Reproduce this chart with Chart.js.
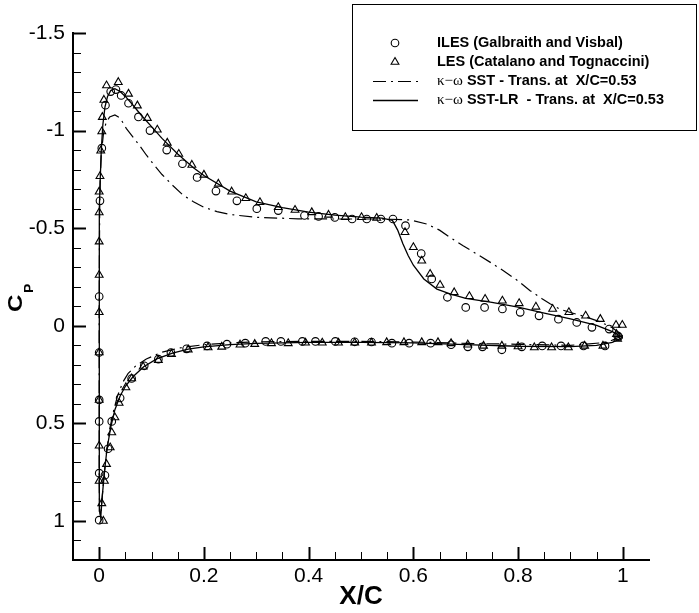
<!DOCTYPE html>
<html>
<head>
<meta charset="utf-8">
<script src="https://cdn.jsdelivr.net/npm/chart.js@4.4.1/dist/chart.umd.min.js"></script>
<style>
  html, body { margin: 0; padding: 0; background: #fff; }
  #wrap { width: 699px; height: 613px; }
</style>
</head>
<body>
<div id="wrap"><canvas id="cp-chart" width="699" height="613"></canvas></div>
<script>
// Ejes
var xMajor = [0, 0.2, 0.4, 0.6, 0.8, 1];
var yMajor = [-1.5, -1, -0.5, 0, 0.5, 1];
var xRange = [-0.05, 1.05];
var yRange = [-1.5, 1.2];

// ILES (Galbraith and Visbal): extrados y luego intrados
var ilesX = [0, 0.0015, 0.005, 0.012, 0.022, 0.032, 0.042, 0.056, 0.075, 0.097, 0.129, 0.159, 0.187, 0.223, 0.263, 0.301,
    0.342, 0.392, 0.419, 0.45, 0.483, 0.511, 0.538, 0.561, 0.585, 0.615, 0.635, 0.665, 0.70, 0.736, 0.77, 0.804, 0.84,
    0.877, 0.912, 0.941, 0.974, 0.99,
    0, 0, 0, 0, 0.011, 0, 0.017, 0.024, 0.04, 0.062, 0.086, 0.113, 0.137, 0.167, 0.206, 0.244, 0.279, 0.318, 0.347,
    0.388, 0.413, 0.451, 0.488, 0.52, 0.559, 0.592, 0.633, 0.672, 0.704, 0.732, 0.769, 0.807, 0.846, 0.882, 0.925,
    0.966, 0.992];
var ilesCp = [-0.15, -0.64, -0.91, -1.13, -1.20, -1.21, -1.18, -1.14, -1.07, -1.0, -0.90, -0.83, -0.76, -0.69, -0.64, -0.60,
    -0.59, -0.565, -0.56, -0.555, -0.547, -0.547, -0.547, -0.547, -0.513, -0.37, -0.24, -0.146, -0.094, -0.094, -0.086,
    -0.069, -0.051, -0.034, -0.017, 0.008, 0.017, 0.051,
    0.137, 0.38, 0.49, 0.755, 0.766, 0.996, 0.63, 0.49, 0.37, 0.27, 0.205, 0.171, 0.137, 0.118, 0.103, 0.094, 0.089,
    0.08, 0.08, 0.08, 0.08, 0.08, 0.082, 0.083, 0.089, 0.089, 0.089, 0.097, 0.108, 0.108, 0.123, 0.108, 0.103, 0.103,
    0.103, 0.103, 0.056];

// LES (Catalano and Tognaccini)
var lesX = [0, 0, 0, 0, 0, 0.0015, 0.003, 0.005, 0.006, 0.009, 0.014, 0.0365, 0.056, 0.073, 0.092, 0.111, 0.130, 0.152,
    0.177, 0.20, 0.2275, 0.253, 0.28, 0.307, 0.342, 0.374, 0.406, 0.438, 0.47, 0.501, 0.53, 0.584, 0.60, 0.616, 0.632,
    0.651, 0.678, 0.707, 0.737, 0.77, 0.802, 0.834, 0.866, 0.897, 0.929, 0.957, 0.987, 0.999, 0.99,
    0, 0, 0, 0, 0.01, 0.005, 0.008, 0.014, 0.021, 0.024, 0.03, 0.038, 0.051, 0.062, 0.084, 0.113, 0.138, 0.17, 0.208,
    0.234, 0.269, 0.297, 0.329, 0.361, 0.394, 0.426, 0.457, 0.488, 0.52, 0.549, 0.582, 0.616, 0.647, 0.672, 0.704,
    0.734, 0.769, 0.80, 0.831, 0.864, 0.896, 0.927, 0.962, 0.988];
var lesCp = [-0.069, -0.26, -0.431, -0.58, -0.687, -0.766, -0.897, -0.995, -1.069, -1.157, -1.231, -1.248, -1.188, -1.128,
    -1.064, -1.004, -0.937, -0.88, -0.824, -0.773, -0.727, -0.687, -0.653, -0.633, -0.607, -0.593, -0.581, -0.568, -0.556,
    -0.556, -0.552, -0.479, -0.402, -0.333, -0.265, -0.209, -0.171, -0.151, -0.137, -0.128, -0.115, -0.097, -0.086,
    -0.069, -0.051, -0.034, -0.004, -0.004, 0.068,
    0.137, 0.38, 0.615, 0.795, 0.795, 0.91, 1.0, 0.709, 0.624, 0.547, 0.47, 0.396, 0.316, 0.27, 0.21, 0.176, 0.145,
    0.122, 0.111, 0.108, 0.097, 0.094, 0.09, 0.09, 0.087, 0.087, 0.087, 0.087, 0.087, 0.085, 0.085, 0.085, 0.085, 0.09,
    0.097, 0.103, 0.103, 0.106, 0.111, 0.111, 0.111, 0.103, 0.103, 0.043];

// k-w SST (trans. X/C=0.53): intrados del borde de salida al de ataque, luego extrados
var sstX = [1.0, 0.97, 0.9, 0.8, 0.7, 0.6, 0.5, 0.4, 0.3, 0.25, 0.2, 0.16, 0.12, 0.09, 0.07, 0.055, 0.045, 0.035, 0.028,
    0.02, 0.014, 0.009, 0.005, 0.003, 0.001, 0, 0, 0, 0,
    0.0005, 0.001, 0.002, 0.004, 0.008, 0.013, 0.02, 0.03, 0.04, 0.052, 0.065, 0.078, 0.09, 0.103, 0.12, 0.14, 0.16,
    0.18, 0.2, 0.225, 0.25, 0.3, 0.38, 0.45, 0.54, 0.595, 0.626, 0.65, 0.67, 0.695, 0.721, 0.75, 0.772, 0.8, 0.823,
    0.845, 0.861, 0.88, 0.9, 0.93, 0.957, 0.98, 1.0];
var sstCp = [0.05, 0.085, 0.1, 0.095, 0.09, 0.083, 0.08, 0.08, 0.082, 0.088, 0.097, 0.11, 0.135, 0.17, 0.205, 0.245, 0.29,
    0.36, 0.43, 0.53, 0.65, 0.78, 0.9, 0.98, 0.95, 0.8, 0.5, 0.2, -0.1,
    -0.4, -0.6, -0.75, -0.88, -0.98, -1.04, -1.07, -1.08, -1.065, -1.01, -0.965, -0.92, -0.875, -0.83, -0.775, -0.72,
    -0.67, -0.635, -0.607, -0.585, -0.57, -0.556, -0.548, -0.547, -0.547, -0.542, -0.521, -0.49, -0.453, -0.41, -0.368,
    -0.32, -0.282, -0.23, -0.18, -0.14, -0.113, -0.085, -0.068, -0.045, -0.02, 0.01, 0.05];

// k-w SST-LR (trans. X/C=0.53)
var sstLrX = [1.0, 0.98, 0.95, 0.9, 0.8, 0.7, 0.6, 0.5, 0.4, 0.3, 0.25, 0.2, 0.17, 0.14, 0.11, 0.085, 0.065, 0.05, 0.04,
    0.03, 0.022, 0.015, 0.01, 0.006, 0.003, 0.001, 0, 0, 0, 0,
    0.0005, 0.001, 0.002, 0.004, 0.007, 0.011, 0.016, 0.022, 0.03, 0.04, 0.05, 0.06, 0.08, 0.1, 0.12, 0.15, 0.18, 0.2,
    0.25, 0.3, 0.35, 0.4, 0.45, 0.5, 0.54, 0.56, 0.57, 0.58, 0.59, 0.6, 0.62, 0.645, 0.67, 0.7, 0.75, 0.8, 0.85, 0.9,
    0.95, 0.98, 1.0];
var sstLrCp = [0.06, 0.085, 0.1, 0.107, 0.105, 0.097, 0.088, 0.085, 0.085, 0.09, 0.097, 0.108, 0.12, 0.14, 0.17, 0.21,
    0.26, 0.31, 0.36, 0.43, 0.52, 0.63, 0.75, 0.87, 0.98, 0.95, 0.8, 0.5, 0.2, -0.1,
    -0.4, -0.6, -0.75, -0.9, -1.03, -1.12, -1.175, -1.205, -1.215, -1.2, -1.175, -1.145, -1.08, -1.02, -0.96, -0.88,
    -0.81, -0.77, -0.69, -0.635, -0.605, -0.582, -0.567, -0.557, -0.552, -0.54, -0.49, -0.42, -0.36, -0.31, -0.24,
    -0.188, -0.163, -0.14, -0.12, -0.095, -0.065, -0.035, -0.002, 0.03, 0.06];

var seriesLabels = [
    "ILES (Galbraith and Visbal)",
    "LES (Catalano and Tognaccini)",
    "κ−ω SST - Trans. at  X/C=0.53",
    "κ−ω SST-LR  - Trans. at  X/C=0.53",
];

function toPoints(xs, ys) {
    return xs.map(function (x, i) { return { x: x, y: ys[i] }; });
}

var sansFamily = "'Liberation Sans', Arial, Helvetica, sans-serif";
Chart.defaults.font.family = sansFamily;
Chart.defaults.color = "#000";

// Marcas de graduación hacia dentro, principales y secundarias
var inwardTicks = {
    id: "inwardTicks",
    afterDraw: function (chart) {
        var ctx = chart.ctx;
        var xs = chart.scales.x;
        var ys = chart.scales.y;
        var area = chart.chartArea;
        var isMajor = function (list, v) {
            return list.some(function (m) { return Math.abs(m - v) < 1e-6; });
        };
        ctx.save();
        ctx.strokeStyle = "#000";
        var i, v, p, major;
        for (i = 1; i <= 21; i++) {
            v = xRange[0] + i * 0.05;
            p = Math.round(xs.getPixelForValue(v)) + 0.5;
            major = isMajor(xMajor, v);
            ctx.lineWidth = major ? 2 : 1;
            ctx.beginPath();
            ctx.moveTo(p, area.bottom);
            ctx.lineTo(p, area.bottom - (major ? 13 : 8));
            ctx.stroke();
        }
        for (i = 0; i <= 26; i++) {
            v = yRange[0] + i * 0.1;
            p = Math.round(ys.getPixelForValue(v)) + 0.5;
            major = isMajor(yMajor, v);
            ctx.lineWidth = major ? 2 : 1;
            ctx.beginPath();
            ctx.moveTo(area.left, p);
            ctx.lineTo(area.left + (major ? 13 : 8), p);
            ctx.stroke();
        }
        ctx.restore();
    },
};

// Título del eje Y: C con subíndice P, girado
var yTitle = {
    id: "yTitle",
    afterDraw: function (chart) {
        var ctx = chart.ctx;
        ctx.save();
        ctx.fillStyle = "#000";
        ctx.translate(22, 312);
        ctx.scale(0.85, 1);
        ctx.rotate(-Math.PI / 2);
        ctx.textBaseline = "alphabetic";
        ctx.font = "bold 24px " + sansFamily;
        ctx.fillText("C", 0, 0);
        ctx.font = "bold 14px " + sansFamily;
        ctx.fillText("P", 19, 13);
        ctx.restore();
    },
};

// Leyenda en recuadro
var boxLegend = {
    id: "boxLegend",
    afterDraw: function (chart) {
        var ctx = chart.ctx;
        var rowsY = [43, 62, 81, 100];
        var markX = 395;
        var textX = 437;
        ctx.save();
        ctx.strokeStyle = "#000";
        ctx.lineWidth = 1;
        ctx.strokeRect(352.5, 4.5, 344, 126);

        chart.data.datasets.forEach(function (ds, i) {
            var y = rowsY[i];
            ctx.save();
            ctx.strokeStyle = "#000";
            ctx.lineWidth = ds.showLine ? ds.borderWidth : 1.1;
            ctx.setLineDash(ds.borderDash || []);
            ctx.beginPath();
            if (ds.showLine) {
                ctx.moveTo(373, y + 0.5);
                ctx.lineTo(418, y + 0.5);
            } else if (ds.pointStyle === "circle") {
                ctx.arc(markX, y, ds.pointRadius, 0, Math.PI * 2);
            } else {
                var r = ds.pointRadius;
                ctx.moveTo(markX, y - r);
                ctx.lineTo(markX + r * 0.866, y + r / 2);
                ctx.lineTo(markX - r * 0.866, y + r / 2);
                ctx.closePath();
            }
            ctx.stroke();
            ctx.restore();

            var label = ds.label;
            var x = textX;
            ctx.fillStyle = "#000";
            ctx.textBaseline = "middle";
            if (label.indexOf("κ−ω") === 0) {
                ctx.font = "15px 'Liberation Serif', 'DejaVu Serif', serif";
                ctx.fillText("κ−ω", x, y);
                x += ctx.measureText("κ−ω").width;
                label = label.slice(3);
            }
            ctx.font = "bold 14.5px " + sansFamily;
            ctx.fillText(label, x, y);
        });
        ctx.restore();
    },
};

var ctx = document.getElementById("cp-chart").getContext("2d");
var cpChart = new Chart(ctx, {
    type: "scatter",
    data: {
        datasets: [
            {
                label: seriesLabels[0],
                data: toPoints(ilesX, ilesCp),
                showLine: false,
                pointStyle: "circle",
                pointRadius: 3.8,
                pointBorderWidth: 1.1,
                pointBorderColor: "#000",
                pointBackgroundColor: "rgba(0,0,0,0)",
            },
            {
                label: seriesLabels[1],
                data: toPoints(lesX, lesCp),
                showLine: false,
                pointStyle: "triangle",
                pointRadius: 4.5,
                pointBorderWidth: 1.1,
                pointBorderColor: "#000",
                pointBackgroundColor: "rgba(0,0,0,0)",
            },
            {
                label: seriesLabels[2],
                data: toPoints(sstX, sstCp),
                showLine: true,
                borderColor: "#000",
                borderWidth: 1.2,
                borderDash: [13, 5, 2, 5],
                pointRadius: 0,
                tension: 0,
            },
            {
                label: seriesLabels[3],
                data: toPoints(sstLrX, sstLrCp),
                showLine: true,
                borderColor: "#000",
                borderWidth: 1.3,
                pointRadius: 0,
                tension: 0,
            },
        ],
    },
    options: {
        responsive: false,
        animation: false,
        events: [],
        layout: { padding: { top: 33, right: 50, left: 0, bottom: 0 } },
        plugins: {
            legend: { display: false },
            tooltip: { enabled: false },
        },
        scales: {
            x: {
                type: "linear",
                min: xRange[0],
                max: xRange[1],
                grid: { display: false, drawTicks: false },
                border: { display: true, color: "#000", width: 2 },
                afterBuildTicks: function (scale) {
                    scale.ticks = xMajor.map(function (v) { return { value: v }; });
                },
                afterFit: function (scale) { scale.height = 53; },
                ticks: {
                    padding: 4,
                    color: "#000",
                    font: { size: 21 },
                    maxRotation: 0,
                    callback: function (v) { return String(v); },
                },
                title: {
                    display: true,
                    text: "X/C",
                    color: "#000",
                    font: { size: 26, weight: "bold" },
                    padding: { top: 0, bottom: 1 },
                },
            },
            y: {
                type: "linear",
                reverse: true,
                min: yRange[0],
                max: yRange[1],
                grid: { display: false, drawTicks: false },
                border: { display: true, color: "#000", width: 2 },
                afterBuildTicks: function (scale) {
                    scale.ticks = yMajor.map(function (v) { return { value: v }; });
                },
                afterFit: function (scale) { scale.width = 73; },
                ticks: {
                    padding: 8,
                    color: "#000",
                    font: { size: 21 },
                    callback: function (v) { return String(v); },
                },
            },
        },
    },
    plugins: [inwardTicks, yTitle, boxLegend],
});
</script>
</body>
</html>
